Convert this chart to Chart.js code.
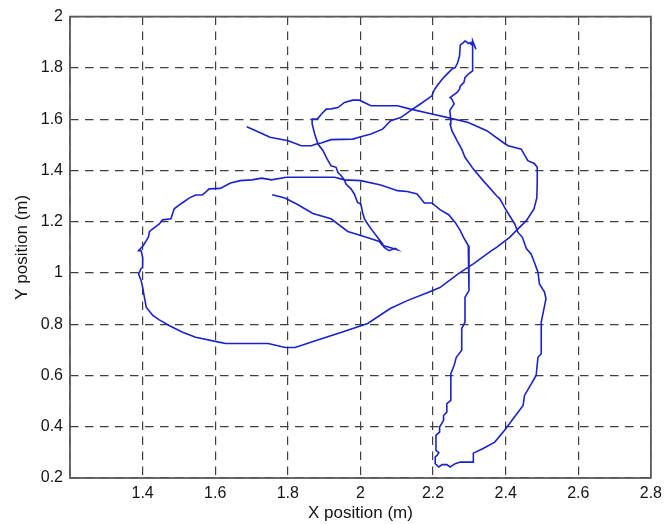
<!DOCTYPE html>
<html>
<head>
<meta charset="utf-8">
<title>Robot trajectory</title>
<script src="https://cdn.jsdelivr.net/npm/chart.js@4/dist/chart.umd.min.js"></script>
<style>
  html, body { margin: 0; padding: 0; background: #fff; }
  #plot { display: block; }
</style>
</head>
<body>
<canvas id="plot" width="668" height="524"></canvas>
<script>
/* X-Y trajectory, one continuous path in metres */
const pathX = [
  1.757, 1.792, 1.828, 1.869, 1.919, 1.965, 2.001, 2.029, 2.052, 2.061, 2.079, 2.102, 2.096, 2.079,
  2.065, 2.061, 2.047, 2.033, 2.020, 2.011, 2.006, 2.001, 1.992, 1.983, 1.974, 1.960, 1.956, 1.947,
  1.938, 1.933, 1.919, 1.906, 1.897, 1.883, 1.874, 1.867, 1.867, 1.881, 1.894, 1.906, 1.919, 1.938,
  1.956, 1.979, 1.997, 2.029, 2.102, 2.138, 2.197, 2.247, 2.297, 2.348, 2.397, 2.407, 2.443, 2.461,
  2.479, 2.487, 2.487, 2.486, 2.478, 2.457, 2.429, 2.411, 2.375, 2.361, 2.312, 2.271, 2.219, 2.184,
  2.129, 2.082, 2.020, 1.946, 1.878, 1.820, 1.793, 1.746, 1.629, 1.610, 1.546, 1.510, 1.473, 1.446,
  1.428, 1.410, 1.405, 1.400, 1.396, 1.389, 1.396, 1.400, 1.400, 1.396, 1.389, 1.396, 1.402, 1.410,
  1.416, 1.419, 1.428, 1.446, 1.455, 1.478, 1.487, 1.505, 1.528, 1.546, 1.564, 1.573, 1.583, 1.614,
  1.642, 1.669, 1.701, 1.728, 1.755, 1.796, 1.828, 1.929, 1.956, 2.001, 2.056, 2.102, 2.129, 2.156,
  2.176, 2.197, 2.220, 2.243, 2.261, 2.275, 2.284, 2.297, 2.299, 2.288, 2.288, 2.279, 2.279, 2.264,
  2.258, 2.249, 2.249, 2.238, 2.238, 2.229, 2.229, 2.218, 2.218, 2.208, 2.208, 2.216, 2.211, 2.206,
  2.206, 2.216, 2.225, 2.238, 2.247, 2.261, 2.275, 2.311, 2.311, 2.338, 2.370, 2.397, 2.448, 2.452,
  2.484, 2.489, 2.498, 2.498, 2.511, 2.507, 2.493, 2.489, 2.479, 2.470, 2.457, 2.446, 2.434, 2.425,
  2.411, 2.397, 2.384, 2.375, 2.338, 2.311, 2.288, 2.279, 2.266, 2.252, 2.247, 2.249, 2.246, 2.258,
  2.252, 2.247, 2.266, 2.273, 2.275, 2.285, 2.288, 2.297, 2.309, 2.309, 2.318, 2.309, 2.305, 2.302,
  2.297, 2.293, 2.288, 2.284, 2.275, 2.273, 2.268, 2.261, 2.252, 2.229, 2.211, 2.202, 2.197, 2.165,
  2.138, 2.111, 2.083, 2.070, 2.061, 2.029, 2.001, 1.979, 1.919, 1.892, 1.878, 1.865, 1.837, 1.801,
  1.751, 1.687
];
const pathY = [
  1.305, 1.292, 1.266, 1.232, 1.211, 1.162, 1.146, 1.133, 1.123, 1.107, 1.100, 1.090, 1.096, 1.087,
  1.100, 1.113, 1.139, 1.165, 1.191, 1.211, 1.236, 1.269, 1.275, 1.308, 1.328, 1.347, 1.363, 1.379,
  1.392, 1.412, 1.418, 1.451, 1.477, 1.503, 1.542, 1.581, 1.600, 1.600, 1.622, 1.639, 1.640, 1.645,
  1.665, 1.674, 1.674, 1.652, 1.652, 1.639, 1.620, 1.604, 1.587, 1.555, 1.505, 1.496, 1.483, 1.438,
  1.427, 1.412, 1.360, 1.294, 1.250, 1.204, 1.165, 1.139, 1.100, 1.087, 1.036, 0.998, 0.943, 0.923,
  0.892, 0.861, 0.803, 0.768, 0.736, 0.709, 0.709, 0.725, 0.725, 0.730, 0.749, 0.769, 0.795, 0.817,
  0.834, 0.866, 0.905, 0.944, 0.970, 0.996, 1.018, 1.020, 1.061, 1.087, 1.087, 1.098, 1.107, 1.126,
  1.139, 1.162, 1.172, 1.191, 1.207, 1.211, 1.250, 1.269, 1.292, 1.304, 1.304, 1.314, 1.328, 1.330,
  1.351, 1.360, 1.363, 1.370, 1.363, 1.373, 1.373, 1.373, 1.363, 1.360, 1.343, 1.321, 1.318, 1.308,
  1.273, 1.273, 1.246, 1.227, 1.197, 1.165, 1.139, 1.107, 0.931, 0.905, 0.808, 0.783, 0.698, 0.671,
  0.639, 0.607, 0.503, 0.490, 0.457, 0.444, 0.425, 0.399, 0.379, 0.366, 0.308, 0.299, 0.288, 0.282,
  0.256, 0.243, 0.252, 0.252, 0.243, 0.256, 0.262, 0.262, 0.297, 0.315, 0.340, 0.386, 0.483, 0.522,
  0.600, 0.671, 0.685, 0.808, 0.899, 0.925, 0.957, 1.003, 1.042, 1.074, 1.095, 1.139, 1.158, 1.191,
  1.223, 1.256, 1.289, 1.301, 1.360, 1.405, 1.451, 1.483, 1.516, 1.555, 1.581, 1.600, 1.633, 1.659,
  1.678, 1.684, 1.704, 1.717, 1.730, 1.743, 1.762, 1.776, 1.788, 1.905, 1.873, 1.905, 1.892, 1.899,
  1.895, 1.901, 1.905, 1.899, 1.889, 1.847, 1.821, 1.801, 1.795, 1.762, 1.730, 1.710, 1.691, 1.659,
  1.633, 1.606, 1.594, 1.574, 1.561, 1.542, 1.531, 1.522, 1.520, 1.507, 1.503, 1.496, 1.496, 1.516,
  1.529, 1.570
];

const xTicks = [1.2, 1.4, 1.6, 1.8, 2.0, 2.2, 2.4, 2.6, 2.8];
const xTickLabels = ['', '1.4', '1.6', '1.8', '2', '2.2', '2.4', '2.6', '2.8'];
const yTicks = [0.2, 0.4, 0.6, 0.8, 1.0, 1.2, 1.4, 1.6, 1.8, 2.0];
const yTickLabels = ['0.2', '0.4', '0.6', '0.8', '1', '1.2', '1.4', '1.6', '1.8', '2'];

const xTitle = 'X position (m)';
const yTitle = 'Y position (m)';

(function () {
  'use strict';

  const FONT = "'Liberation Sans', Arial, Helvetica, sans-serif";
  const INK = '#141414';
  const GRID = '#3f3f3f';
  const BOX = '#5a5a5a';
  const LINE = '#1b22c6';

  const points = pathX.map((x, i) => ({ x, y: pathY[i] }));

  // solid frame round the plot area, like a matlab axes box
  const boxPlugin = {
    id: 'axesBox',
    afterDatasetsDraw(chart) {
      const { ctx, chartArea: a } = chart;
      ctx.save();
      ctx.strokeStyle = BOX;
      ctx.lineWidth = 1.8;
      ctx.setLineDash([]);
      ctx.strokeRect(a.left, a.top, a.right - a.left, a.bottom - a.top);
      ctx.restore();
    },
  };

  const gridOpts = { color: GRID, lineWidth: 1.2, drawTicks: false };
  const borderOpts = { display: false, dash: [8.5, 6.5] };

  new Chart(document.getElementById('plot').getContext('2d'), {
    type: 'scatter',
    data: {
      datasets: [{
        data: points,
        showLine: true,
        borderColor: LINE,
        borderWidth: 1.6,
        pointRadius: 0,
        tension: 0,
        fill: false,
      }],
    },
    options: {
      responsive: false,
      animation: false,
      devicePixelRatio: 1,
      layout: { padding: { top: 16, right: 12, bottom: 0, left: 0 } },
      plugins: { legend: { display: false }, tooltip: { enabled: false } },
      scales: {
        x: {
          type: 'linear',
          min: xTicks[0], max: xTicks[xTicks.length - 1],
          afterBuildTicks: (s) => { s.ticks = xTicks.map((v) => ({ value: v })); },
          afterFit: (s) => { s.height = 46; },
          ticks: {
            autoSkip: false, maxRotation: 0, padding: 6,
            color: INK, font: { family: FONT, size: 16 },
            callback: (v, i) => xTickLabels[i],
          },
          grid: gridOpts,
          border: borderOpts,
          title: {
            display: true, text: xTitle, color: INK,
            font: { family: FONT, size: 17 }, padding: { top: 0, bottom: 0 },
          },
        },
        y: {
          type: 'linear',
          min: yTicks[0], max: yTicks[yTicks.length - 1],
          afterBuildTicks: (s) => { s.ticks = yTicks.map((v) => ({ value: v })); },
          afterFit: (s) => { s.width = 70; },
          ticks: {
            autoSkip: false, padding: 7,
            color: INK, font: { family: FONT, size: 16 },
            callback: (v, i) => yTickLabels[i],
          },
          grid: gridOpts,
          border: borderOpts,
          title: {
            display: true, text: yTitle, color: INK,
            font: { family: FONT, size: 17 }, padding: { top: 12, bottom: 0 },
          },
        },
      },
    },
    plugins: [boxPlugin],
  });
})();
</script>
</body>
</html>
